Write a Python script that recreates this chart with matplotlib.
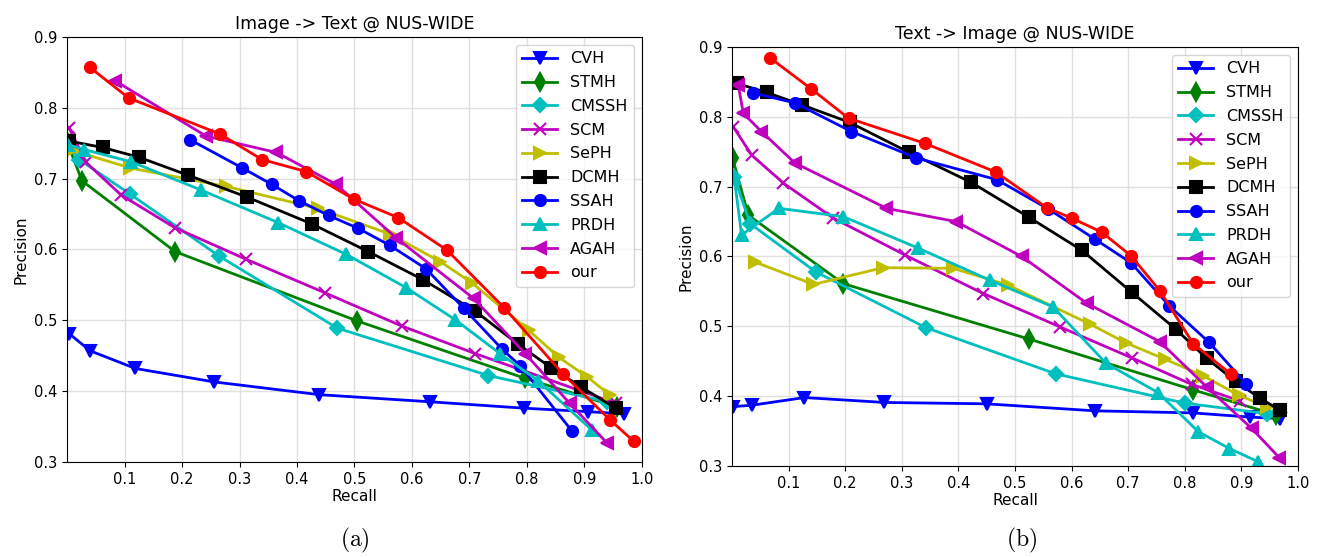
import matplotlib
matplotlib.use("Agg")
import matplotlib.pyplot as plt

plt.rcParams['mathtext.fontset'] = 'cm'

methods = ["CVH", "STMH", "CMSSH", "SCM", "SePH", "DCMH", "SSAH", "PRDH", "AGAH", "our"]
colors = ["b", "g", "c", "m", "y", "k", "b", "c", "m", "r"]
markers = ["v", "d", "D", "x", ">", "s", "o", "^", "<", "o"]

# ---------- (a) Image -> Text ----------
a_recall = {
    "CVH":   [0.004, 0.040, 0.119, 0.256, 0.439, 0.631, 0.794, 0.907, 0.968],
    "STMH":  [0.001, 0.026, 0.188, 0.505, 0.797, 0.956],
    "CMSSH": [0.002, 0.021, 0.110, 0.264, 0.470, 0.733, 0.940],
    "SCM":   [0.004, 0.033, 0.094, 0.187, 0.312, 0.448, 0.582, 0.710, 0.954],
    "SePH":  [0.009, 0.110, 0.277, 0.436, 0.561, 0.649, 0.704, 0.803, 0.855, 0.905, 0.945],
    "DCMH":  [0.004, 0.062, 0.126, 0.210, 0.313, 0.426, 0.524, 0.620, 0.710, 0.785, 0.842, 0.894, 0.954],
    "SSAH":  [0.214, 0.305, 0.356, 0.403, 0.455, 0.506, 0.561, 0.624, 0.690, 0.757, 0.788, 0.878],
    "PRDH":  [0.002, 0.030, 0.111, 0.233, 0.367, 0.486, 0.590, 0.675, 0.753, 0.819, 0.913],
    "AGAH":  [0.084, 0.242, 0.364, 0.468, 0.573, 0.707, 0.797, 0.874, 0.939],
    "our":   [0.040, 0.107, 0.266, 0.339, 0.416, 0.499, 0.576, 0.661, 0.760, 0.863, 0.945, 0.986],
}
a_precision = {
    "CVH":   [0.481, 0.457, 0.432, 0.413, 0.395, 0.385, 0.376, 0.371, 0.368],
    "STMH":  [0.750, 0.697, 0.597, 0.499, 0.418, 0.378],
    "CMSSH": [0.748, 0.727, 0.678, 0.591, 0.489, 0.422, 0.385],
    "SCM":   [0.771, 0.723, 0.677, 0.631, 0.586, 0.539, 0.492, 0.453, 0.383],
    "SePH":  [0.740, 0.715, 0.689, 0.658, 0.622, 0.583, 0.553, 0.486, 0.448, 0.420, 0.394],
    "DCMH":  [0.753, 0.744, 0.730, 0.705, 0.674, 0.636, 0.597, 0.557, 0.513, 0.466, 0.433, 0.406, 0.376],
    "SSAH":  [0.755, 0.715, 0.692, 0.669, 0.648, 0.630, 0.606, 0.573, 0.517, 0.459, 0.436, 0.344],
    "PRDH":  [0.748, 0.741, 0.724, 0.684, 0.638, 0.593, 0.546, 0.501, 0.453, 0.415, 0.345],
    "AGAH":  [0.838, 0.760, 0.737, 0.692, 0.616, 0.531, 0.453, 0.383, 0.327],
    "our":   [0.857, 0.814, 0.763, 0.727, 0.710, 0.671, 0.645, 0.599, 0.518, 0.424, 0.359, 0.329],
}

# ---------- (b) Text -> Image ----------
b_recall = {
    "CVH":   [0.002, 0.035, 0.128, 0.269, 0.450, 0.641, 0.815, 0.915, 0.968],
    "STMH":  [0.001, 0.029, 0.197, 0.524, 0.815, 0.962],
    "CMSSH": [0.004, 0.032, 0.148, 0.343, 0.572, 0.800, 0.945],
    "SCM":   [0.002, 0.035, 0.091, 0.179, 0.306, 0.444, 0.580, 0.706, 0.812, 0.898],
    "SePH":  [0.041, 0.144, 0.267, 0.391, 0.488, 0.633, 0.697, 0.765, 0.833, 0.896, 0.945],
    "DCMH":  [0.008, 0.061, 0.124, 0.208, 0.313, 0.423, 0.525, 0.618, 0.706, 0.784, 0.839, 0.890, 0.933, 0.968],
    "SSAH":  [0.038, 0.111, 0.211, 0.326, 0.468, 0.559, 0.641, 0.705, 0.773, 0.843, 0.909],
    "PRDH":  [0.004, 0.017, 0.083, 0.197, 0.329, 0.456, 0.567, 0.661, 0.753, 0.824, 0.879, 0.930],
    "AGAH":  [0.011, 0.020, 0.052, 0.111, 0.273, 0.396, 0.512, 0.627, 0.756, 0.839, 0.918, 0.967],
    "our":   [0.068, 0.140, 0.206, 0.341, 0.466, 0.556, 0.600, 0.653, 0.705, 0.756, 0.815, 0.881],
}
b_precision = {
    "CVH":   [0.385, 0.387, 0.398, 0.391, 0.389, 0.379, 0.376, 0.370, 0.368],
    "STMH":  [0.741, 0.659, 0.561, 0.482, 0.409, 0.373],
    "CMSSH": [0.714, 0.647, 0.578, 0.498, 0.432, 0.390, 0.375],
    "SCM":   [0.786, 0.745, 0.705, 0.655, 0.602, 0.547, 0.499, 0.455, 0.417, 0.393],
    "SePH":  [0.592, 0.560, 0.584, 0.583, 0.559, 0.503, 0.476, 0.453, 0.429, 0.401, 0.385],
    "DCMH":  [0.848, 0.835, 0.817, 0.792, 0.749, 0.706, 0.656, 0.609, 0.549, 0.496, 0.454, 0.421, 0.397, 0.380],
    "SSAH":  [0.834, 0.820, 0.779, 0.741, 0.710, 0.668, 0.625, 0.591, 0.529, 0.477, 0.417],
    "PRDH":  [0.712, 0.631, 0.669, 0.657, 0.612, 0.566, 0.528, 0.447, 0.405, 0.349, 0.325, 0.306],
    "AGAH":  [0.846, 0.805, 0.779, 0.734, 0.669, 0.650, 0.600, 0.533, 0.478, 0.413, 0.354, 0.312],
    "our":   [0.884, 0.840, 0.798, 0.762, 0.721, 0.670, 0.655, 0.635, 0.601, 0.551, 0.475, 0.432],
}

x_ticks = [0.1, 0.2, 0.3, 0.4, 0.5, 0.6, 0.7, 0.8, 0.9, 1.0]
y_ticks = [0.3, 0.4, 0.5, 0.6, 0.7, 0.8, 0.9]
titles = ["Image -> Text @ NUS-WIDE", "Text -> Image @ NUS-WIDE"]
panel_labels = [r"$\mathrm{(a)}$", r"$\mathrm{(b)}$"]

fig = plt.figure(figsize=(13.22, 5.57), dpi=100)
ax_a = fig.add_axes([0.0507, 0.1706, 0.4349, 0.763])
ax_b = fig.add_axes([0.5537, 0.1634, 0.4281, 0.7522])

for ax, rec, prec, title in [(ax_a, a_recall, a_precision, titles[0]),
                             (ax_b, b_recall, b_precision, titles[1])]:
    for m, c, mk in zip(methods, colors, markers):
        ms = 8
        if mk == "D":
            ms = 7
        elif mk == "d":
            ms = 9
        ax.plot(rec[m], prec[m], color=c, marker=mk, lw=2, ms=ms, mew=1.5, label=m)
    ax.set_xlim(0, 1.0)
    ax.set_ylim(0.3, 0.9)
    ax.set_xticks(x_ticks)
    ax.set_xticklabels(["%.1f" % v for v in x_ticks])
    ax.set_yticks(y_ticks)
    ax.set_yticklabels(["%.1f" % v for v in y_ticks])
    ax.tick_params(labelsize=10.5)
    ax.grid(True, color="#e0e0e0", lw=1)
    ax.set_axisbelow(True)
    ax.set_xlabel("Recall", fontsize=11, labelpad=2)
    ax.set_ylabel("Precision", fontsize=11)
    ax.set_title(title, fontsize=12.5)
    ax.legend(loc="upper right", fontsize=11.5, handlelength=2.2, labelspacing=0.55,
              borderaxespad=0.5)

fig.text(0.2685, 0.03, panel_labels[0], fontsize=17, ha="center", va="center")
fig.text(0.773, 0.03, panel_labels[1], fontsize=17, ha="center", va="center")

fig.savefig("out.png", dpi=100)
